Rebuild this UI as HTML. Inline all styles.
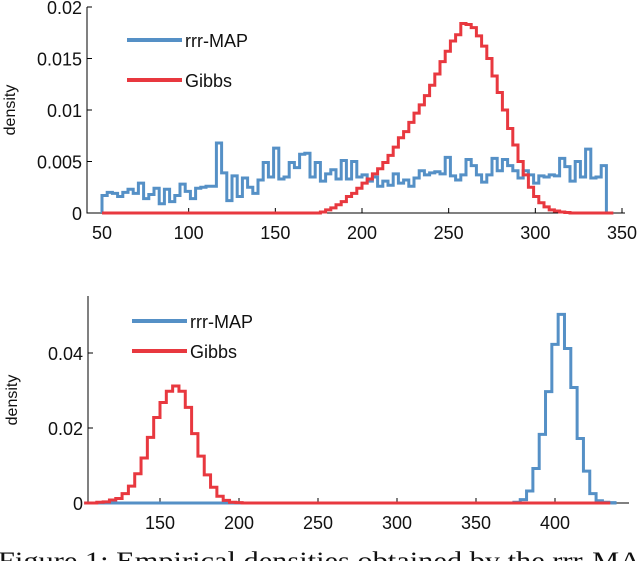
<!DOCTYPE html>
<html><head><meta charset="utf-8">
<style>
body{margin:0;background:#fff;width:640px;height:561px;overflow:hidden}
svg text{font-family:"Liberation Sans",sans-serif;fill:#111}
</style></head><body>
<svg id="svg" width="640" height="561" xmlns="http://www.w3.org/2000/svg">
<g id="top"></g>
<g id="bot"></g>
<text x="-2" y="569" textLength="660" lengthAdjust="spacingAndGlyphs" style="font-family:'Liberation Serif',serif;font-size:25px">Figure 1: Empirical densities obtained by the rrr-MAP</text>
</svg>
<script>
// ---- top chart data ----
const topBinW = 3;
const topMapStart = 50;
const topMapVals = [0.0017,0.002,0.0019,0.0016,0.002,0.0023,0.0019,0.0029,0.0014,0.0018,0.0024,0.0009,0.0023,0.0011,0.0017,0.0028,0.0021,0.0014,0.0024,0.0025,0.0026,0.0026,0.0068,0.0039,0.0012,0.0036,0.0016,0.0034,0.0025,0.0019,0.0032,0.0049,0.0035,0.0063,0.0033,0.0035,0.0049,0.0044,0.0057,0.0058,0.0035,0.0049,0.0031,0.0038,0.0042,0.0033,0.0051,0.0033,0.0050,0.0035,0.0037,0.0031,0.0035,0.0026,0.0031,0.0027,0.0038,0.0029,0.0032,0.0026,0.0034,0.0041,0.0037,0.0039,0.0040,0.0038,0.0054,0.0036,0.0032,0.0037,0.0052,0.0046,0.0037,0.0030,0.0037,0.0053,0.0041,0.0052,0.0046,0.0041,0.0034,0.0041,0.0037,0.0029,0.0036,0.0035,0.0037,0.0036,0.0053,0.0045,0.0031,0.0050,0.0035,0.0062,0.0034,0.0035,0.0046];
const topGibbsStart = 176;
const topGibbsVals = [0.0001,0.0003,0.0005,0.0008,0.0011,0.0016,0.0019,0.0024,0.0029,0.0033,0.0038,0.0043,0.0049,0.0056,0.0064,0.0073,0.0079,0.0088,0.0097,0.0105,0.0114,0.0124,0.0135,0.0147,0.0157,0.0167,0.0173,0.0184,0.0183,0.0180,0.0172,0.0162,0.0150,0.0133,0.0117,0.0100,0.0082,0.0066,0.0050,0.0037,0.0025,0.0016,0.0010,0.0006,0.0003,0.0002,0.0001,0.00005];
const topXTicks = [50,100,150,200,250,300,350];
const topYTicks = [0,0.005,0.01,0.015,0.02];
const topYLabels = ["0","0.005","0.01","0.015","0.02"];
// ---- bottom chart data ----
const botBinW = 4;
const botGibbsStart = 110;
const botGibbsVals = [0.0002,0.0003,0.0008,0.0012,0.0025,0.0045,0.0078,0.0120,0.0175,0.0228,0.0268,0.0298,0.0312,0.0298,0.0255,0.0185,0.0125,0.0075,0.0042,0.0018,0.0007,0.0002,0.0001];
const botMapStart = 374;
const botMapVals = [0.0002,0.0009,0.0032,0.0092,0.0183,0.0297,0.0423,0.0503,0.0412,0.0308,0.0172,0.0085,0.0025,0.0006,0.0002,0.0001];
const botXTicks = [150,200,250,300,350,400];
const botYTicks = [0,0.02,0.04];
const botYLabels = ["0","0.02","0.04"];

const NS="http://www.w3.org/2000/svg";
const BLUE="#5590c6", RED="#e8383f";
function mk(parent,tag,attrs){const e=document.createElementNS(NS,tag);for(const k in attrs)e.setAttribute(k,attrs[k]);parent.appendChild(e);return e;}

function drawChart(g,cfg){
  const sx=v=>cfg.x0+(v-cfg.xmin)*cfg.kx, sy=v=>cfg.y0-v*cfg.ky;
  const ax=mk(g,'path',{d:`M${cfg.axL},${cfg.yTop}V${cfg.y0}H${cfg.axR}`,stroke:'#000',fill:'none','stroke-width':1});
  
  
  cfg.xt.forEach(t=>{
    const l=mk(g,'line',{x1:sx(t),x2:sx(t),y1:cfg.y0,y2:cfg.y0-5,stroke:'#000'});
    
    
    const tx=mk(g,'text',{x:sx(t),y:cfg.y0+26,'text-anchor':'middle','font-size':18});
    tx.textContent=t;
    
    
  });
  cfg.yt.forEach((t,i)=>{
    const l=mk(g,'line',{x1:cfg.axL,x2:cfg.axL+5,y1:sy(t),y2:sy(t),stroke:'#000'});
    
    
    const tx=mk(g,'text',{x:cfg.axL-5,y:sy(t)+7,'text-anchor':'end','font-size':18});
    tx.textContent=cfg.yl[i];
    
    
  });
  const yt=mk(g,'text',{transform:`translate(${cfg.ylabX},${cfg.ylabY}) rotate(-90)`,'text-anchor':'middle','font-size':16});
  yt.textContent='density';
  
  
  cfg.series.forEach(s=>{
    let d=`M${sx(cfg.lineMin)},${sy(0)}H${sx(s.start)}`;
    s.vals.forEach((v,i)=>{const a=s.start+i*cfg.bw;d+=`V${sy(v)}H${sx(a+cfg.bw)}`;});
    d+=`V${sy(0)}H${sx(cfg.lineMax)}`;
    const p=mk(g,'path',{d,stroke:s.c,fill:'none','stroke-width':3,'stroke-linejoin':'miter'});
    
    
  });
  cfg.legend.forEach((e,i)=>{
    const y=cfg.legY+i*cfg.legDy;
    const l=mk(g,'line',{x1:cfg.legX,x2:cfg.legX+55,y1:y,y2:y,stroke:e.c,'stroke-width':4});
    
    
    const t=mk(g,'text',{x:cfg.legX+58,y:y+7,'font-size':18});
    t.textContent=e.t;
    
    
  });
}
drawChart(document.getElementById('top'),{x0:102,xmin:50,kx:520/300,y0:213,ky:206/0.02,axL:87,axR:625,yTop:7,
  xt:topXTicks,yt:topYTicks,yl:topYLabels,ylabX:15,ylabY:110,bw:topBinW,lineMin:50,lineMax:345,
  series:[{name:'rrr-map-series',c:BLUE,start:topMapStart,vals:topMapVals},{name:'gibbs-series',c:RED,start:topGibbsStart,vals:topGibbsVals}],
  legend:[{t:'rrr-MAP',c:BLUE},{t:'Gibbs',c:RED}],legX:127,legY:40,legDy:40});
drawChart(document.getElementById('bot'),{x0:160,xmin:150,kx:395/250,y0:503,ky:150/0.04,axL:88,axR:629,yTop:296,
  xt:botXTicks,yt:botYTicks,yl:botYLabels,ylabX:17,ylabY:400,bw:botBinW,lineMin:102,lineMax:435,
  series:[{name:'rrr-map-series',c:BLUE,start:botMapStart,vals:botMapVals},{name:'gibbs-series',c:RED,start:botGibbsStart,vals:botGibbsVals}],
  legend:[{t:'rrr-MAP',c:BLUE},{t:'Gibbs',c:RED}],legX:132,legY:321,legDy:30});
</script>
</body></html>
